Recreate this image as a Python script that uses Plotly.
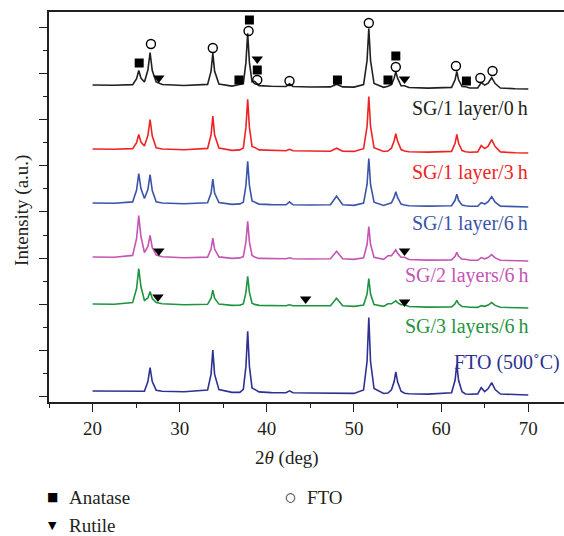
import plotly.graph_objects as go

# ---- data (2theta grid shared by all patterns) ----
two_theta = [20, 22.5, 24.6, 25.05, 25.3, 25.55, 25.95, 26.35, 26.6, 26.85,
             27.3, 28.0, 30.5, 33.2, 33.6, 33.8, 34.0, 34.5, 36.0, 36.9,
             37.3, 37.6, 37.8, 38.0, 38.3, 38.6, 39.1, 40.5, 42.2, 42.6,
             43.0, 45.0, 47.3, 48.0, 48.7, 50.0, 51.1, 51.5, 51.7, 51.9,
             52.3, 53.4, 53.9, 54.3, 54.6, 54.8, 55.0, 55.4, 55.8, 56.3,
             58.5, 61.2, 61.6, 61.8, 62.0, 62.4, 62.8, 63.3, 64.2, 64.6,
             65.0, 65.4, 65.8, 66.2, 66.8, 68.5, 70.0]

# slow background drift common to all patterns
background = [0, -0.2, -0.4, -0.5, -0.5, -0.5, -0.5, -0.5, -0.5, -0.5,
              -0.5, -0.5, -0.8, -1.1, -1.1, -1.1, -1.1, -1.1, -1.4, -1.4,
              -1.4, -1.4, -1.4, -1.4, -1.4, -1.4, -1.4, -1.6, -1.8, -1.8,
              -1.8, -2.0, -2.2, -2.2, -2.2, -2.4, -2.5, -2.5, -2.5, -2.5,
              -2.5, -2.8, -2.8, -2.8, -2.8, -2.8, -2.8, -2.8, -2.8, -2.8,
              -3.1, -3.3, -3.3, -3.3, -3.3, -3.3, -3.3, -3.3, -3.6, -3.6,
              -3.6, -3.6, -3.6, -3.6, -3.6, -3.8, -4.0]

sg1_0h = [0, 0, 0.8, 6.8, 15, 7.5, 3.5, 15.5, 33, 15,
          3.5, 1, 0.3, 1.7, 15, 33, 15, 2, 0.3, 2,
          2.7, 24, 53, 24, 4.5, 5, 0.8, 0.3, 0.3, 3,
          0.3, 0, 0.3, 3, 0.3, 0.3, 3, 27, 59, 27,
          4, 0.5, 1.5, 3.2, 9.6, 16, 9.6, 2, 2, 0.3,
          0, 0.9, 8.5, 17, 8.5, 1.7, 1.5, 0.3, 0.6, 6,
          3.5, 5.5, 11, 5, 0.6, 0, 0]

sg1_3h = [0, 0, 0.8, 6.8, 15, 7.5, 3.5, 14, 30, 13.5,
          1.8, 0.5, 0, 1.7, 15.3, 34, 15.3, 2, 0, 0.5,
          2.5, 23, 51, 23, 4, 3, 0.5, 0, 0, 1.5,
          0, 0, 0, 3, 0, 0, 2.8, 25, 55, 25,
          3.8, 0.3, 0.8, 3.6, 10.8, 18, 10.8, 2.2, 0.8, 0,
          0, 0.9, 9, 18, 9, 1.8, 0.5, 0, 0.7, 7,
          4, 6.5, 13, 6, 0.7, 0, 0]

sg1_6h = [0, 0, 1.5, 13.5, 30, 15, 5, 14, 29, 13,
          1.8, 0.5, 0, 1.3, 11, 25, 11, 1.5, 0, 0.5,
          2.2, 19, 43, 19, 3.5, 2.5, 0.3, 0, 0, 3,
          0, 0, 0.5, 9, 0.5, 0, 2.4, 21, 47, 21,
          3.3, 0.3, 1.5, 3, 8.4, 14, 8.4, 1.7, 0.8, 0,
          0, 0.6, 6, 12, 6, 1.2, 0.5, 0, 0.4, 4,
          2.5, 5, 10, 4.5, 0.5, 0, 0]

sg2_6h = [0, 0, 2, 19, 42, 21, 5, 11, 22, 10,
          2.5, 0.8, 0, 1, 9, 20, 9, 1.2, 0, 0.5,
          1.8, 16.5, 37, 16.5, 3, 1.5, 0, 0, 0, 1,
          0, 0, 0.4, 8, 0.4, 0, 1.6, 15, 33, 15,
          2.3, 0.5, 4, 4, 7, 10, 6.5, 2.5, 2.5, 0.3,
          0, 0.4, 4, 8, 4, 1, 1, 0, 0.3, 3,
          1.8, 3, 6, 2.7, 0.3, 0, 0]

sg3_6h = [0, 0, 1.8, 16, 36, 18, 4, 6.5, 13, 6,
          2, 0.7, 0, 0.8, 7, 15, 7, 1, 0, 0.3,
          1.4, 13, 29, 13, 2.3, 1, 0, 0, 0, 1,
          0, 0.3, 0.4, 8, 0.4, 0, 1.4, 12.5, 28, 12.5,
          2, 0.4, 3, 3, 4.5, 6, 4.2, 2, 2, 0.3,
          0, 0.4, 3.5, 7, 3.5, 0.8, 0.5, 0, 0.2, 2,
          1.3, 2.5, 5, 2.2, 0.3, 0, 0]

fto_500 = [0, 0, 0, 0, 0, 0, 0.3, 10, 24, 10,
           1.3, 0.3, 0, 2, 18, 42, 18, 2.5, 0, 0,
           3, 26, 61, 26, 4.5, 3, 0.5, 0, 0, 2,
           0, 0, 0, 0, 0, 0, 3.5, 32, 76, 32,
           5, 0.3, 0.8, 4, 12, 22, 12, 2.5, 0.5, 0,
           0, 1.5, 14, 30, 14, 2.5, 0.3, 0, 0.7, 7,
           3, 6, 12, 5, 0.6, 0, 0]

series_names = ["SG/1 layer/0\u2009h", "SG/1 layer/3\u2009h", "SG/1 layer/6\u2009h",
                "SG/2 layers/6\u2009h", "SG/3 layers/6\u2009h", "FTO (500\u02daC)"]
series_values = [sg1_0h, sg1_3h, sg1_6h, sg2_6h, sg3_6h, fto_500]
stack_offsets = [317, 253, 199, 145, 98, 11]
series_colors = ["#231f20", "#ee2424", "#3a55a8", "#c455b4", "#1f9440", "#2e3192"]
label_y = [294, 230, 179, 127, 76, 40]
label_x = [70.2, 70.2, 70.2, 70.2, 70.2, 73.9]

# phase markers (2theta, stacked intensity)
anatase_x = [25.35, 36.8, 38.0, 38.9, 48.1, 53.9, 54.8, 62.9]
anatase_y = [339, 322, 382, 332, 322, 322, 346, 321]
fto_x = [26.7, 33.8, 37.9, 38.9, 42.6, 51.7, 54.8, 61.7, 64.5, 65.9]
fto_y = [358, 354, 371, 322, 321, 379, 335, 336, 324, 331]
rutile_x = [27.6, 38.9, 55.8, 27.6, 55.8, 27.5, 44.45, 55.8]
rutile_y = [324, 343, 323, 151, 151, 105, 103, 100]

FONT = "Liberation Serif, Times New Roman, serif"
TXT = "#231f20"

fig = go.Figure()
for name, vals, off, col in zip(series_names, series_values, stack_offsets, series_colors):
    fig.add_trace(go.Scatter(
        x=two_theta, y=[off + v + b for v, b in zip(vals, background)],
        mode="lines", line=dict(color=col, width=1.6), name=name, showlegend=False))

fig.add_trace(go.Scatter(x=anatase_x, y=anatase_y, mode="markers", name="Anatase",
                         marker=dict(symbol="square", size=9, color="black"), showlegend=False))
fig.add_trace(go.Scatter(x=fto_x, y=fto_y, mode="markers", name="FTO",
                         marker=dict(symbol="circle-open", size=9, color="black",
                                     line=dict(width=1.4, color="black")), showlegend=False))
fig.add_trace(go.Scatter(x=rutile_x, y=rutile_y, mode="markers", name="Rutile",
                         marker=dict(symbol="triangle-down", size=10, color="black"), showlegend=False))

for name, col, lx, ly in zip(series_names, series_colors, label_x, label_y):
    fig.add_annotation(x=lx, y=ly, xref="x", yref="y", text=name, showarrow=False,
                       xanchor="right", yanchor="middle",
                       font=dict(family=FONT, size=20, color=col))

# axis titles
fig.add_annotation(x=-0.0524, y=0.49, xref="paper", yref="paper", text="Intensity (a.u.)",
                   textangle=-90, showarrow=False, xanchor="center", yanchor="middle",
                   font=dict(family=FONT, size=19, color=TXT))
fig.add_annotation(x=0.462, y=-0.1436, xref="paper", yref="paper",
                   text="2<i>\u03b8</i> (deg)", showarrow=False, xanchor="center", yanchor="middle",
                   font=dict(family=FONT, size=19, color=TXT))

# phase key
key = [("\u25a0", "Anatase", 52, 67, 497, 12), ("\u25bc", "Rutile", 52, 67, 525, 11),
       ("\u25cb", "FTO", 290, 305, 497, 12)]
for sym, lab, sx, tx, py, ss in key:
    fig.add_annotation(x=(sx - 49) / 515, y=(402 - py) / 390, xref="paper", yref="paper",
                       text=sym, showarrow=False, xanchor="center", yanchor="middle",
                       font=dict(family="DejaVu Sans", size=ss, color="black"))
    fig.add_annotation(x=(tx - 49) / 515, y=(402 - py) / 390, xref="paper", yref="paper",
                       text=lab, showarrow=False, xanchor="left", yanchor="middle",
                       font=dict(family=FONT, size=19, color=TXT))

fig.update_layout(
    width=564, height=536,
    margin=dict(l=49, r=0, t=12, b=134),
    paper_bgcolor="white", plot_bgcolor="white",
    font=dict(family=FONT, size=19, color=TXT),
    xaxis=dict(range=[15, 74.1], tickvals=[20, 30, 40, 50, 60, 70],
               ticks="outside", ticklen=8, tickwidth=1.3, tickcolor="#231f20",
               minor=dict(tickvals=[15, 25, 35, 45, 55, 65], ticks="outside", ticklen=4,
                          tickwidth=1.3, tickcolor="#231f20"),
               showline=True, linecolor="#231f20", linewidth=1.6, mirror=True,
               showgrid=False, zeroline=False,
               tickfont=dict(family=FONT, size=19, color=TXT)),
    yaxis=dict(range=[0, 390], tick0=5.3, dtick=46.2, showticklabels=False,
               ticks="outside", ticklen=8, tickwidth=1.3, tickcolor="#231f20",
               minor=dict(tick0=28.4, dtick=46.2, ticks="outside", ticklen=4,
                          tickwidth=1.3, tickcolor="#231f20"),
               showline=True, linecolor="#231f20", linewidth=1.6,
               showgrid=False, zeroline=False),
)

fig.write_html("out.html", config={"displayModeBar": False},
               post_script="document.body.style.margin='0';document.body.style.overflow='hidden';")
